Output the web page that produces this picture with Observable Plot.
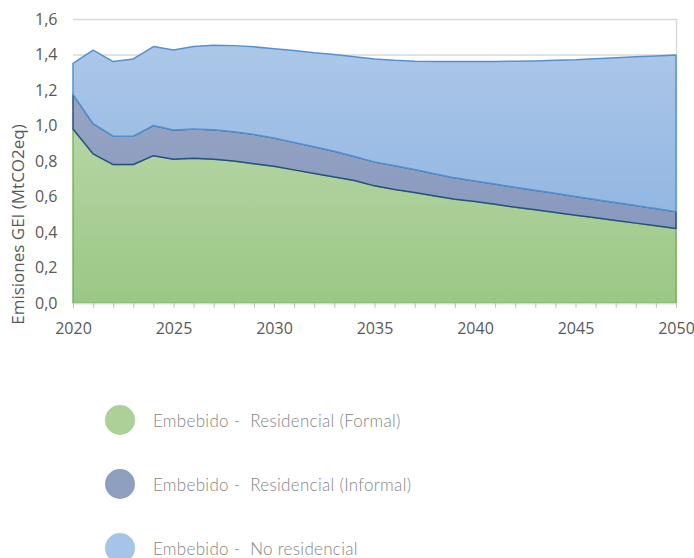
<!DOCTYPE html>
<html><head><meta charset="utf-8">
<script src="https://cdn.jsdelivr.net/npm/d3@7"></script>
<script src="https://cdn.jsdelivr.net/npm/@observablehq/plot@0.6"></script>
<style>
body{margin:0;background:#fff;}
#chart svg{display:block}
.legend{margin-top:60px;font-family:Lato,sans-serif;font-weight:300;font-size:17px;letter-spacing:0.3px;color:#858585}
.row{display:flex;align-items:center;height:30px;margin-bottom:34px;white-space:pre;line-height:1}
.dot{width:30px;height:30px;border-radius:50%;margin-left:105px;margin-right:18px;flex:none}
</style></head><body>
<div id="chart"></div>
<div class="legend" id="legend"></div>
<script>
const years = d3.range(2020, 2051);
const formal = [0.98,0.84,0.78,0.78,0.83,0.81,0.815,0.81,0.80,0.785,0.77,0.75,0.73,0.71,0.69,0.66,0.64,0.622,0.603,0.585,0.572,0.556,0.54,0.525,0.51,0.495,0.48,0.465,0.45,0.435,0.42];
const informal = [0.195,0.17,0.16,0.16,0.17,0.165,0.165,0.166,0.165,0.165,0.16,0.155,0.15,0.145,0.135,0.135,0.134,0.13,0.125,0.12,0.115,0.114,0.112,0.11,0.108,0.105,0.103,0.101,0.099,0.097,0.094];
const noResidencial = [0.175,0.415,0.42,0.435,0.445,0.45,0.465,0.476,0.485,0.493,0.503,0.518,0.53,0.545,0.563,0.58,0.593,0.61,0.632,0.655,0.673,0.69,0.71,0.729,0.749,0.77,0.793,0.816,0.838,0.86,0.883];
const yTicks = [0,0.2,0.4,0.6,0.8,1.0,1.2,1.4,1.6];
const yLabel = "Emisiones GEI (MtCO2eq)";
const legendLabels = ["Embebido -  Residencial (Formal)","Embebido -  Residencial (Informal)","Embebido -  No residencial"];
const legendColors = ["#acd096","#8f9fc0","#a6c3e8"];

const rows = years.map((year, i) => ({
  year,
  f1: formal[i],
  i1: formal[i] + informal[i],
  n1: formal[i] + informal[i] + noResidencial[i]
}));

const defs = () => {
  const ns = "http://www.w3.org/2000/svg";
  const g = document.createElementNS(ns, "defs");
  g.innerHTML = `
  <linearGradient id="gF" x1="0" y1="0" x2="0" y2="1"><stop offset="0" stop-color="#b6d5a3"/><stop offset="1" stop-color="#9ac786"/></linearGradient>
  <linearGradient id="gI" x1="0" y1="0" x2="0" y2="1"><stop offset="0" stop-color="#97a5c3"/><stop offset="1" stop-color="#8899bf"/></linearGradient>
  <linearGradient id="gN" x1="0" y1="0" x2="0" y2="1"><stop offset="0" stop-color="#acc7e8"/><stop offset="1" stop-color="#93b7e2"/></linearGradient>`;
  return g;
};

const plot = Plot.plot({
  width: 694, height: 345,
  marginLeft: 73, marginRight: 18, marginTop: 19, marginBottom: 42,
  x: {domain: [2020, 2050]},
  y: {domain: [0, 1.6]},
  style: {fontFamily: "'Open Sans', sans-serif", fontSize: "16px", color: "#595959", background: "white"},
  marks: [
    defs,
    Plot.gridY(yTicks, {stroke: "#d9d9d9", strokeOpacity: 1, strokeWidth: 1.5}),
    Plot.ruleX([2050], {stroke: "#d9d9d9", strokeWidth: 1.5}),
    Plot.areaY(rows, {x: "year", y1: 0, y2: "f1", fill: "url(#gF)", stroke: "#70ad47", strokeWidth: 1.3}),
    Plot.areaY(rows, {x: "year", y1: "f1", y2: "i1", fill: "url(#gI)", stroke: "#264f80", strokeWidth: 1.5}),
    Plot.areaY(rows, {x: "year", y1: "i1", y2: "n1", fill: "url(#gN)", stroke: "#5591d2", strokeWidth: 1.5}),
    Plot.ruleY([0], {stroke: "#d9d9d9", strokeWidth: 1.5}),
    Plot.axisY({ticks: yTicks, tickSize: 0, tickPadding: 16, fontSize: 16, tickFormat: d => d.toFixed(1).replace(".", ","), label: null}),
    Plot.axisX({ticks: years, tickSize: 5, tickPadding: 14, fontSize: 16, stroke: "#bfbfbf", tickFormat: d => d % 5 === 0 ? String(d) : "", label: null}),
    Plot.text([yLabel], {x: 2020, y: 0.445, dx: -55, rotate: -90, textAnchor: "middle", text: d => d, fill: "#595959", fontSize: 17, letterSpacing: 0.5})
  ]
});
document.getElementById("chart").append(plot);

const legend = d3.select("#legend");
legendLabels.forEach((lab, i) => {
  const r = legend.append("div").attr("class", "row");
  r.append("div").attr("class", "dot").style("background", legendColors[i]);
  r.append("span").text(lab);
});
</script>
</body></html>
